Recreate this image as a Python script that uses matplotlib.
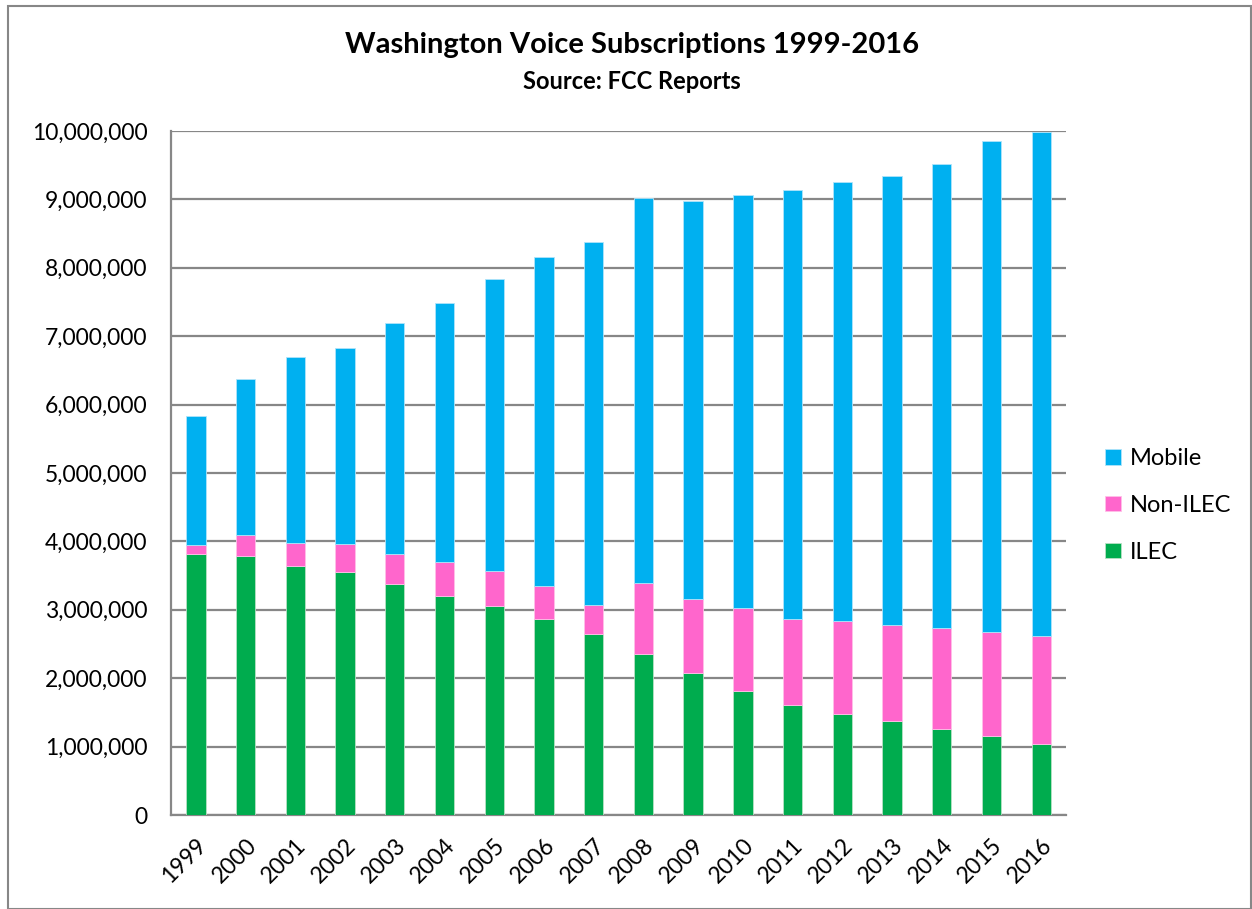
import matplotlib
matplotlib.use("Agg")
import matplotlib.pyplot as plt
from matplotlib.patches import Rectangle
from matplotlib.ticker import FuncFormatter
import numpy as np

years = [str(y) for y in range(1999, 2017)]
ilec = [3.81, 3.78, 3.64, 3.55, 3.37, 3.20, 3.06, 2.87, 2.64,
        2.36, 2.07, 1.81, 1.61, 1.48, 1.37, 1.26, 1.16, 1.04]
non_ilec_top = [3.95, 4.10, 3.98, 3.96, 3.81, 3.70, 3.57, 3.35, 3.07,
                3.39, 3.16, 3.03, 2.87, 2.83, 2.78, 2.73, 2.68, 2.61]
total = [5.83, 6.38, 6.69, 6.83, 7.19, 7.48, 7.83, 8.16, 8.37,
         9.02, 8.98, 9.06, 9.14, 9.26, 9.34, 9.52, 9.86, 9.99]

# millions -> subscriptions
ilec = np.array(ilec) * 1e6
non_ilec = np.array(non_ilec_top) * 1e6 - ilec
mobile = np.array(total) * 1e6 - ilec - non_ilec

plt.rcParams["font.family"] = ["Lato", "DejaVu Sans"]

fig = plt.figure(figsize=(12.52, 9.09), dpi=100)
ax = fig.add_axes([0.1366, 0.1034, 0.7149, 0.7525])

x = np.arange(len(years))
w = 0.39
ax.bar(x, ilec, w, color="#00AC4E", edgecolor="#B8E0C4", linewidth=0.6, label="ILEC", zorder=3)
ax.bar(x, non_ilec, w, bottom=ilec, color="#FF66CC", edgecolor="#FFC0E8", linewidth=0.6, label="Non-ILEC", zorder=3)
ax.bar(x, mobile, w, bottom=ilec + non_ilec, color="#00B0F0", edgecolor="#B0E4FA", linewidth=0.6, label="Mobile", zorder=3)

ax.set_xlim(-0.5, len(years) - 0.5)
ax.set_ylim(0, 10_000_000)
ax.set_yticks(np.arange(0, 10_000_001, 1_000_000))
ax.yaxis.set_major_formatter(FuncFormatter(lambda v, p: f"{int(v):,}"))
ax.yaxis.grid(True, color="#878787", linewidth=1.6, zorder=0)
ax.set_axisbelow(True)

ax.set_xticks(x)
ax.set_xticklabels(years, rotation=45, ha="right", rotation_mode="anchor")
ax.tick_params(axis="x", length=0, labelsize=16.5, pad=14)
ax.tick_params(axis="y", length=0, labelsize=16.5, pad=17)

for s in ["top", "right"]:
    ax.spines[s].set_visible(False)
for s in ["left", "bottom"]:
    ax.spines[s].set_color("#878787")
    ax.spines[s].set_linewidth(1.6)

handles, labels = ax.get_legend_handles_labels()
leg = fig.legend(handles[::-1], labels[::-1], loc="center left",
                 bbox_to_anchor=(0.866, 0.444), frameon=False, fontsize=17,
                 handlelength=0.65, handleheight=0.65, handletextpad=0.4,
                 labelspacing=1.1)

fig.text(0.505, 0.950, "Washington Voice Subscriptions 1999-2016", ha="center",
         va="center", fontsize=21, fontweight="bold")
fig.text(0.505, 0.910, "Source: FCC Reports", ha="center", va="center",
         fontsize=17, fontweight="bold")

fig.patches.append(Rectangle((8 / 1252, 0.0), 1 - 9 / 1252, 1 - 6 / 909,
                             transform=fig.transFigure, fill=False,
                             edgecolor="#878787", linewidth=1.5))

fig.savefig("out.png", dpi=100)
